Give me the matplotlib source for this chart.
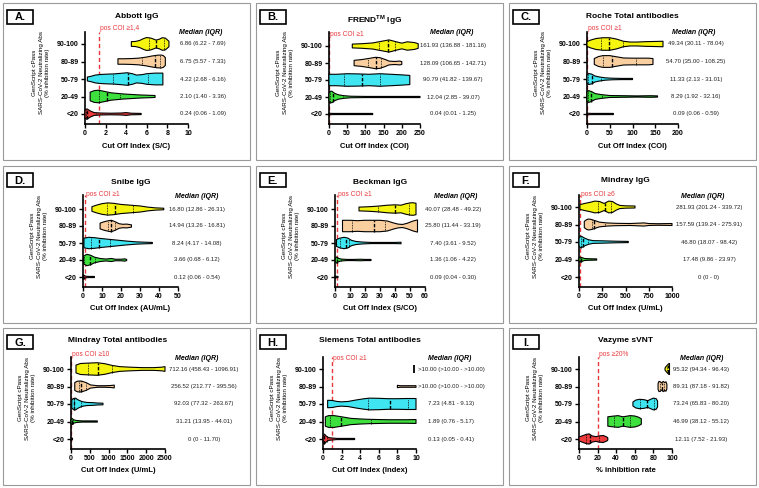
import numpy as np
import matplotlib
matplotlib.use("Agg")
import matplotlib.pyplot as plt
from matplotlib.patches import Rectangle, Polygon

plt.rcParams['font.family'] = ['Liberation Sans', 'DejaVu Sans']

CATS = ['90-100', '80-89', '50-79', '20-49', '<20']
COLORS = ['#f5f50f', '#f9cfa0', '#3fe6f2', '#3ee03e', '#ee3b3b']
YLAB = "GenScript cPass\nSARS-CoV-2 Neutralizing Abs\n(% inhibition rate)"

# violin outlines: x positions and half widths (category units)
# groups ordered 90-100, 80-89, 50-79, 20-49, <20

# A. Abbott IgG
A_x = [[4.5, 4.9, 5.3, 5.7, 6.0, 6.4, 6.9, 7.2, 7.5, 7.8, 8.15],
       [3.2, 3.8, 4.5, 5.2, 5.9, 6.5, 7.0, 7.4, 7.6, 7.8],
       [0.23, 0.6, 1.0, 1.5, 2.2, 2.8, 3.5, 4.1, 4.6, 5.0, 5.5, 6.0, 6.8, 7.56],
       [0.5, 0.9, 1.3, 1.8, 2.5, 3.7, 5.3, 6.8],
       [0.0, 0.2, 0.5, 0.9, 1.5, 2.5, 3.5, 4.0, 4.5, 5.45]]
A_w = [[0.12, 0.13, 0.18, 0.28, 0.33, 0.30, 0.20, 0.24, 0.32, 0.30, 0.14],
       [0.14, 0.14, 0.15, 0.17, 0.22, 0.28, 0.32, 0.33, 0.30, 0.20],
       [0.10, 0.14, 0.20, 0.23, 0.25, 0.26, 0.29, 0.32, 0.27, 0.20, 0.22, 0.27, 0.30, 0.30],
       [0.22, 0.30, 0.32, 0.27, 0.19, 0.13, 0.08, 0.05],
       [0.22, 0.26, 0.16, 0.07, 0.05, 0.04, 0.05, 0.07, 0.04, 0.03]]
A_med = [6.86, 6.75, 4.22, 2.10, 0.24]
A_q1 = [6.22, 5.57, 2.68, 1.40, 0.06]
A_q3 = [7.69, 7.33, 6.16, 3.36, 1.09]

# B. FREND IgG
B_x = [[64, 90, 120, 145, 165, 185, 200, 215, 235, 245],
       [69, 90, 110, 128, 140, 155, 165, 180, 195, 200],
       [0, 20, 50, 80, 110, 140, 170, 200, 222],
       [0, 3, 8, 15, 25, 40, 60, 100, 150, 200, 250],
       [0, 2, 10, 60, 120]]
B_w = [[0.10, 0.12, 0.16, 0.25, 0.32, 0.22, 0.15, 0.22, 0.18, 0.12],
       [0.14, 0.18, 0.24, 0.30, 0.28, 0.18, 0.10, 0.08, 0.10, 0.07],
       [0.30, 0.30, 0.33, 0.32, 0.30, 0.33, 0.30, 0.27, 0.24],
       [0.20, 0.30, 0.30, 0.20, 0.12, 0.07, 0.04, 0.03, 0.03, 0.03, 0.03],
       [0.05, 0.04, 0.03, 0.03, 0.03]]
B_med = [161.93, 128.09, 90.79, 12.04, 0.04]
B_q1 = [136.88, 106.65, 41.82, 2.85, 0.01]
B_q3 = [181.16, 142.71, 139.67, 39.07, 1.25]

# C. Roche Total antibodies
C_x = [[0, 8, 20, 35, 50, 65, 80, 95, 110, 130, 150, 167],
       [16, 25, 35, 50, 65, 80, 100, 120, 135, 145],
       [0, 4, 10, 18, 28, 40, 55, 75, 100],
       [0, 4, 10, 18, 30, 50, 80, 110, 140, 155],
       [0, 10, 30, 58]]
C_w = [[0.12, 0.20, 0.28, 0.32, 0.32, 0.25, 0.14, 0.10, 0.10, 0.12, 0.13, 0.14],
       [0.15, 0.25, 0.30, 0.30, 0.24, 0.18, 0.17, 0.17, 0.17, 0.15],
       [0.20, 0.28, 0.25, 0.15, 0.10, 0.06, 0.04, 0.03, 0.03],
       [0.25, 0.30, 0.25, 0.15, 0.10, 0.05, 0.04, 0.03, 0.04, 0.03],
       [0.04, 0.03, 0.03, 0.03]]
C_med = [49.34, 54.70, 11.33, 8.29, 0.09]
C_q1 = [30.11, 35.00, 2.13, 1.92, 0.06]
C_q3 = [78.04, 108.25, 31.01, 32.16, 0.59]

# D. Snibe IgG
D_x = [[4.7, 7, 10, 13, 16, 20, 25, 30, 34, 38, 42.5],
       [9, 11, 13.5, 15, 17, 19, 21, 23, 25.5],
       [0.5, 3, 6, 9, 13, 18, 23, 28, 33, 36.5],
       [0.3, 2, 4, 6, 9, 12, 15, 17, 20, 22, 23],
       [0, 0.5, 1.5, 3, 6]]
D_w = [[0.12, 0.20, 0.28, 0.32, 0.30, 0.24, 0.20, 0.16, 0.10, 0.06, 0.04],
       [0.15, 0.22, 0.28, 0.30, 0.22, 0.12, 0.09, 0.10, 0.06],
       [0.25, 0.30, 0.28, 0.24, 0.20, 0.15, 0.10, 0.06, 0.04, 0.03],
       [0.20, 0.30, 0.25, 0.15, 0.08, 0.05, 0.08, 0.04, 0.04, 0.06, 0.03],
       [0.12, 0.09, 0.04, 0.03, 0.03]]
D_med = [16.80, 14.94, 8.24, 3.66, 0.12]
D_q1 = [12.86, 13.26, 4.17, 0.68, 0.06]
D_q3 = [26.31, 16.81, 14.08, 6.12, 0.54]

# E. Beckman IgG
E_x = [[16, 20, 25, 30, 35, 40, 44, 47, 50, 52, 54],
       [5, 10, 15, 20, 25, 30, 35, 39, 42, 45, 48, 52, 55],
       [1, 3, 6, 8.5, 11, 14, 18, 24, 32, 40, 44],
       [0.2, 1, 2, 4, 8, 12, 17, 20, 24],
       [0, 0.5, 2]]
E_w = [[0.10, 0.11, 0.13, 0.16, 0.20, 0.22, 0.20, 0.27, 0.32, 0.33, 0.30],
       [0.30, 0.30, 0.28, 0.30, 0.30, 0.30, 0.26, 0.16, 0.10, 0.08, 0.14, 0.26, 0.32],
       [0.18, 0.25, 0.30, 0.26, 0.14, 0.08, 0.05, 0.03, 0.03, 0.03, 0.04],
       [0.10, 0.16, 0.10, 0.05, 0.03, 0.03, 0.04, 0.03, 0.03],
       [0.04, 0.04, 0.03]]
E_med = [40.07, 25.80, 7.40, 1.36, 0.09]
E_q1 = [28.48, 11.44, 3.61, 1.06, 0.04]
E_q3 = [49.22, 33.19, 9.52, 4.22, 0.30]

# F. Mindray IgG
F_x = [[10, 60, 120, 170, 220, 270, 320, 360, 400, 440, 500, 602],
       [57, 80, 100, 130, 170, 220, 300, 400, 550, 650, 700, 750, 850, 1000],
       [0, 15, 30, 60, 100, 150, 250, 320, 400, 530],
       [0, 10, 30, 60, 100, 190],
       [0, 5]]
F_w = [[0.12, 0.18, 0.24, 0.30, 0.28, 0.18, 0.30, 0.28, 0.16, 0.08, 0.06, 0.05],
       [0.16, 0.24, 0.28, 0.26, 0.20, 0.12, 0.08, 0.06, 0.05, 0.07, 0.08, 0.05, 0.04, 0.05],
       [0.18, 0.30, 0.28, 0.20, 0.12, 0.07, 0.06, 0.05, 0.04, 0.03],
       [0.08, 0.12, 0.10, 0.05, 0.04, 0.03],
       [0.03, 0.03]]
F_med = [281.93, 157.59, 46.80, 17.48, 0]
F_q1 = [201.24, 139.24, 18.07, 9.86, 0]
F_q3 = [339.72, 275.91, 98.42, 23.97, 0]

# G. Mindray Total antibodies
G_x = [[133, 250, 450, 700, 900, 1100, 1300, 1600, 1900, 2200, 2400, 2500],
       [100, 170, 270, 400, 520, 700, 900, 1050, 1150],
       [20, 60, 120, 200, 300, 420, 560, 700, 850],
       [0, 30, 80, 150, 300, 500, 700],
       [0, 20, 40]]
G_w = [[0.20, 0.28, 0.30, 0.32, 0.27, 0.18, 0.12, 0.09, 0.07, 0.07, 0.09, 0.12],
       [0.20, 0.27, 0.28, 0.20, 0.08, 0.04, 0.04, 0.05, 0.07],
       [0.20, 0.28, 0.30, 0.20, 0.12, 0.08, 0.07, 0.05, 0.04],
       [0.10, 0.15, 0.08, 0.05, 0.03, 0.03, 0.03],
       [0.06, 0.05, 0.04]]
G_med = [712.16, 256.52, 92.03, 31.21, 0]
G_q1 = [458.43, 212.77, 77.32, 13.95, 0]
G_q3 = [1096.91, 395.56, 263.67, 44.01, 11.70]

# H. Siemens Total antibodies (None = >10.00)
H_x = [[9.75],
       [8.0, 8.3, 9.0, 10.0],
       [0.5, 1.0, 1.5, 2.0, 2.7, 3.5, 4.3, 5.0, 6.0, 7.0, 8.0, 9.0, 10.0],
       [0.25, 0.6, 1.2, 2.0, 3.0, 4.0, 5.0, 6.0, 7.0, 8.0, 9.0, 10.0],
       [0, 0.15, 0.35, 0.6, 1.0, 1.5, 2.5, 3.4]]
H_w = [[0.22],
       [0.06, 0.04, 0.04, 0.04],
       [0.19, 0.18, 0.13, 0.11, 0.13, 0.20, 0.26, 0.30, 0.29, 0.27, 0.27, 0.28, 0.28],
       [0.24, 0.30, 0.30, 0.24, 0.16, 0.13, 0.11, 0.10, 0.09, 0.09, 0.09, 0.10],
       [0.12, 0.25, 0.15, 0.07, 0.05, 0.03, 0.03, 0.03]]
H_med = [None, None, 7.23, 1.89, 0.13]
H_q1 = [None, None, 4.81, 0.76, 0.05]
H_q3 = [None, None, 9.13, 5.17, 0.41]

# I. Vazyme sVNT
I_x = [[92.5, 93.5, 95, 96.5, 97.3],
       [85, 86, 87.5, 89, 90.5, 92, 93.5, 94.5],
       [58, 61, 65, 70, 74, 77, 80, 83, 84.5],
       [31, 36, 42, 47, 50, 55, 60, 64, 67],
       [0, 4, 8, 11, 14, 18, 22, 26, 30, 31]]
I_w = [[0.05, 0.12, 0.20, 0.27, 0.28],
       [0.14, 0.26, 0.24, 0.18, 0.26, 0.20, 0.24, 0.12],
       [0.10, 0.20, 0.24, 0.22, 0.17, 0.24, 0.30, 0.27, 0.15],
       [0.24, 0.27, 0.30, 0.24, 0.26, 0.30, 0.28, 0.22, 0.14],
       [0.10, 0.17, 0.24, 0.26, 0.16, 0.12, 0.16, 0.18, 0.10, 0.05]]
I_med = [95.32, 89.31, 73.24, 46.99, 12.11]
I_q1 = [94.34, 87.18, 65.83, 38.12, 7.52]
I_q3 = [96.43, 91.82, 80.20, 55.12, 21.93]

TITLES = ['Abbott IgG', r'FREND$^{\mathregular{TM}}$ IgG', 'Roche Total antibodies',
          'Snibe IgG', 'Beckman IgG', 'Mindray IgG',
          'Mindray Total antibodies', 'Siemens Total antibodies', 'Vazyme sVNT']
XLABELS = ['Cut Off Index (S/C)', 'Cut Off Index (COI)', 'Cut Off Index (COI)',
           'Cut Off Index (AU/mL)', 'Cut Off Index (S/CO)', 'Cut Off Index (U/mL)',
           'Cut Off Index (U/mL)', 'Cut Off Index (Index)', '% inhibition rate']
XMAX = [10, 250, 200, 50, 60, 1000, 2500, 10, 100]
XSTEP = [2, 50, 50, 10, 10, 250, 500, 2, 20]
CUTOFF = [1.4, 1, 1, 1, 1, 6, 10, 1, 20]
CUTLAB = ['pos COI \u22651,4', 'pos COI \u22651', 'pos COI \u22651', 'pos COI \u22651',
          'pos COI \u22651', 'pos COI \u22656', 'pos COI \u226510', 'pos COI \u22651',
          'pos \u226520%']

DATA = [(A_x, A_w, A_med, A_q1, A_q3), (B_x, B_w, B_med, B_q1, B_q3),
        (C_x, C_w, C_med, C_q1, C_q3), (D_x, D_w, D_med, D_q1, D_q3),
        (E_x, E_w, E_med, E_q1, E_q3), (F_x, F_w, F_med, F_q1, F_q3),
        (G_x, G_w, G_med, G_q1, G_q3), (H_x, H_w, H_med, H_q1, H_q3),
        (I_x, I_w, I_med, I_q1, I_q3)]

# layout in pixels, local to each panel cell
# left spine, right end, top category y, title y, header x, value text x, cutoff label y
GEOM = [(85, 188, 44, 16, 201, 203, 29), (76, 167, 46, 20, 199, 200, 34),
        (81, 172, 44, 16, 188, 190, 29), (83, 178, 46, 20, 197, 197, 32),
        (82, 172, 46, 20, 203, 200, 32), (73, 166, 44, 18, 197, 203, 31),
        (71, 165, 44, 16, 197, 204, 29), (70, 163, 44, 16, 197, 198, 33),
        (73, 166, 44, 16, 196, 195, 29)]
AX_TOP, AX_BOT, CAT_BOT = 32, 124, 114
WSCALE = 1.12

W, H = 759, 488
CELL_X = [0, 253, 506]
CELL_Y = [0, 163, 325]


def fmt(v):
    if v is None:
        return '>10.00'
    if v == 0:
        return '0'
    return '%.2f' % v


fig = plt.figure(figsize=(7.59, 4.88), dpi=100)


def fp(cx, cy, x, y):
    return ((cx + x) / W, 1 - (cy + y) / H)


for k in range(9):
    cx, cy = CELL_X[k % 3], CELL_Y[k // 3]
    left, right, cat_top, title_y, head_x, text_x, cut_y = GEOM[k]
    xs_all, ws_all, med, q1, q3 = DATA[k]

    # panel frame and letter box
    fig.patches.append(Rectangle(fp(cx, cy, 3, 160), 247 / W, 157 / H,
                                 transform=fig.transFigure, fill=False, ec='#9a9a9a', lw=0.8))
    fig.patches.append(Rectangle(fp(cx, cy, 7, 24), 26 / W, 14 / H,
                                 transform=fig.transFigure, fill=False, ec='black', lw=1.2))
    fig.text(*fp(cx, cy, 20, 17.5), 'ABCDEFGHI'[k] + '.', ha='center', va='center',
             fontsize=8, fontweight='bold')

    ax = fig.add_axes([(cx + left) / W, 1 - (cy + AX_BOT) / H,
                       (right - left) / W, (AX_BOT - AX_TOP) / H])
    sp = (CAT_BOT - cat_top) / 4
    ax.set_ylim(-(AX_BOT - CAT_BOT) / sp, 4 + (cat_top - AX_TOP) / sp)
    ax.set_xlim(0, XMAX[k])
    ax.patch.set_alpha(0)

    ax.axvline(CUTOFF[k], color='#e8383d', ls=(0, (3, 2)), lw=1.0, zorder=1)

    for i in range(5):
        y = 4 - i
        xs = np.array(xs_all[i], dtype=float)
        ws = np.array(ws_all[i], dtype=float) * WSCALE
        if len(xs) == 1:
            ax.plot([xs[0], xs[0]], [y - ws[0], y + ws[0]], color='black', lw=1.3,
                    solid_capstyle='butt', zorder=3)
        else:
            pts = np.column_stack([np.r_[xs, xs[::-1]], np.r_[y + ws, (y - ws)[::-1]]])
            ax.add_patch(Polygon(pts, closed=True, fc=COLORS[i], ec='black', lw=0.8,
                                 joinstyle='round', clip_on=False, zorder=3))
            for val, ls, lw in [(q1[i], (0, (1, 1)), 0.6), (q3[i], (0, (1, 1)), 0.6),
                                (med[i], (0, (2.5, 1.2)), 1.0)]:
                if val is None or val <= xs[0] or val >= xs[-1]:
                    continue
                hw = np.interp(val, xs, ws)
                ax.plot([val, val], [y - hw, y + hw], color='black', ls=ls, lw=lw,
                        zorder=4, clip_on=False)

        # median (IQR) text
        ty = cat_top + i * sp
        fig.text(*fp(cx, cy, text_x, ty), '%s (%s - %s)' % (fmt(med[i]), fmt(q1[i]), fmt(q3[i])),
                 ha='center', va='center', fontsize=4.3, color='#222222')

    fig.text(*fp(cx, cy, head_x, 33), 'Median (IQR)', ha='center', va='center',
             fontsize=5, fontweight='bold', fontstyle='italic')

    ax.spines['top'].set_visible(False)
    ax.spines['right'].set_visible(False)
    ax.spines['left'].set_linewidth(1.2)
    ax.spines['bottom'].set_linewidth(1.2)
    ax.set_yticks(range(5))
    ax.set_yticklabels(CATS[::-1])
    ax.set_xticks(np.arange(0, XMAX[k] + 1e-9, XSTEP[k]))
    ax.tick_params(direction='out', length=3, width=1, labelsize=5, pad=1.5)
    for lab in ax.get_xticklabels() + ax.get_yticklabels():
        lab.set_fontweight('bold')

    midx = (left + right) / 2
    fig.text(*fp(cx, cy, midx, title_y), TITLES[k], ha='center', va='center',
             fontsize=6, fontweight='bold')
    fig.text(*fp(cx, cy, midx, 146), XLABELS[k], ha='center', va='center',
             fontsize=5.5, fontweight='bold')
    fig.text(*fp(cx, cy, left - 44, 73), YLAB, ha='center', va='center', rotation=90,
             fontsize=4.5, linespacing=1.3, multialignment='center')

    cut_px = left + CUTOFF[k] / XMAX[k] * (right - left)
    fig.text(*fp(cx, cy, cut_px + 1, cut_y), CUTLAB[k], ha='left', va='center',
             fontsize=4.8, color='#e8383d')

fig.savefig('out.png', dpi=100)
